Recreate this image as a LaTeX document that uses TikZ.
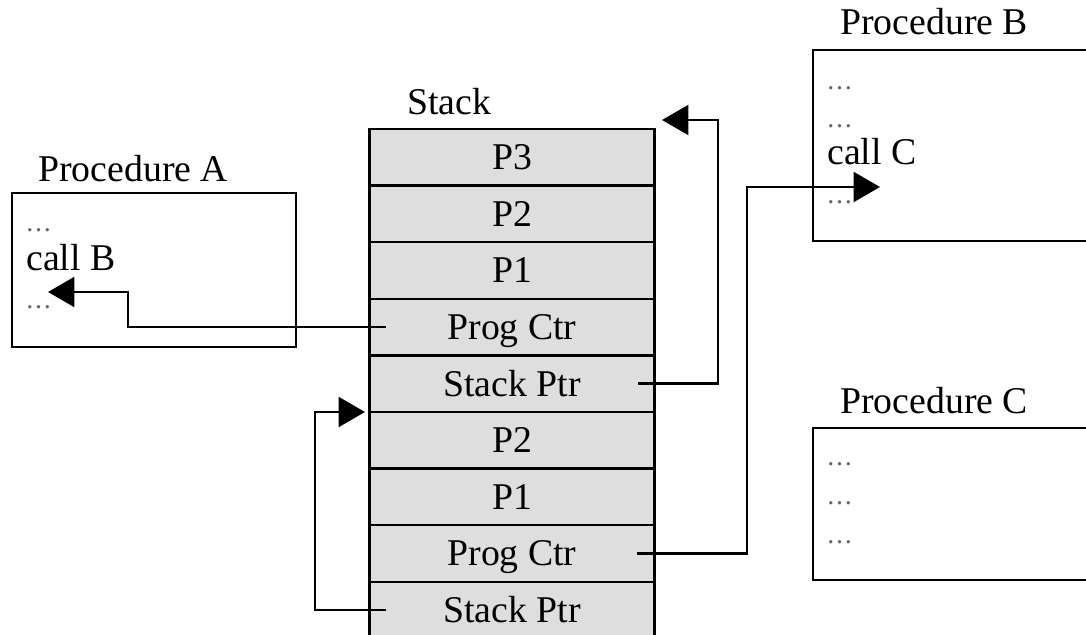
\documentclass[tikz,border=0pt]{standalone}
\usepackage{fontspec}
\setmainfont{Liberation Serif}
\usetikzlibrary{arrows.meta,calc}
\definecolor{stackgray}{RGB}{222,222,222}
\begin{document}
\begin{tikzpicture}[x=0.02cm,y=-0.02cm,
  row/.style={draw, line width=1.4pt, fill=stackgray, minimum width=5.7cm, minimum height=1.132cm,
    inner sep=0pt, text height=14pt, text depth=0pt, font=\fontsize{21.5}{25}\selectfont},
  proc/.style={draw, line width=1.4pt, fill=white, inner sep=0pt},
  lbl/.style={font=\fontsize{21.5}{25}\selectfont, inner sep=0pt, anchor=base west},
  dots/.style={font=\fontsize{16}{18}\selectfont, text=black!60, inner sep=0pt, anchor=base west},
  link/.style={line width=1.4pt, -{Triangle[length=15pt,width=17pt]}}]
\useasboundingbox (0,0) rectangle (1086,635);
% procedure boxes
\node[proc, minimum width=5.68cm, minimum height=3.08cm] (pa) at (154,270) {};
\node[proc, minimum width=6cm, minimum height=3.82cm] (pb) at (963,145.5) {};
\node[proc, minimum width=6cm, minimum height=3.04cm] (pc) at (963,504) {};
\node[lbl] (la) at (38,181) {Procedure A};
\node[lbl] (lb) at (840,35) {Procedure B};
\node[lbl] (lc) at (840,413) {Procedure C};
\node[lbl] (ls) at (407,115) {Stack};
% contents of A
\node[dots] (a1) at (26,232) {.\kern1pt.\kern1pt.};
\node[lbl] (a2) at (26,270) {call B};
\node[dots] (a3) at (26,308) {.\kern1pt.\kern1pt.};
% contents of B
\node[dots] (b1) at (827,90) {.\kern1pt.\kern1pt.};
\node[dots] (b2) at (827,128) {.\kern1pt.\kern1pt.};
\node[lbl] (b3) at (827,165) {call C};
\node[dots] (b4) at (827,203) {.\kern1pt.\kern1pt.};
% contents of C
\node[dots] (c1) at (827,465) {.\kern1pt.\kern1pt.};
\node[dots] (c2) at (827,504) {.\kern1pt.\kern1pt.};
\node[dots] (c3) at (827,543) {.\kern1pt.\kern1pt.};
% stack
\node[row] (p3a) at (512,157.3) {P3};
\node[row] (p2a) at (512,213.9) {P2};
\node[row] (p1a) at (512,270.5) {P1};
\node[row] (pc1) at (512,327.1) {Prog Ctr};
\node[row] (sp1) at (512,383.7) {Stack Ptr};
\node[row] (p2b) at (512,440.3) {P2};
\node[row] (p1b) at (512,496.9) {P1};
\node[row] (pc2) at (512,553.5) {Prog Ctr};
\node[row] (sp2) at (512,610.1) {Stack Ptr};
% arrow tips
\coordinate (aT) at (48,292);
\coordinate (tT) at (662,120);
\coordinate (lT) at (365,412);
\coordinate (bT) at (880,187);
% connectors
\draw[link] ([xshift=0.36cm]pc1.west) -| (128,292) -- (aT);
\draw[link] ([xshift=-0.36cm]sp1.east) -| (718,120) -- (tT);
\draw[link] ([xshift=0.36cm]sp2.west) -| (315,412) -- (lT);
\draw[link] ([xshift=-0.38cm]pc2.east) -| (747,187) -- (bT);
\end{tikzpicture}
\end{document}
